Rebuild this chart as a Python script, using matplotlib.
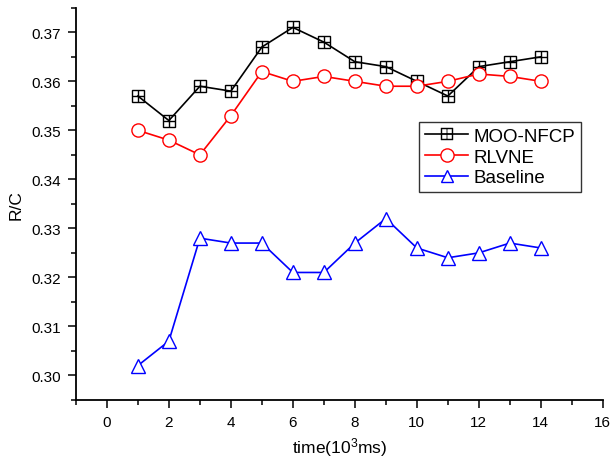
import matplotlib
matplotlib.use("Agg")
import matplotlib.pyplot as plt
from matplotlib.ticker import MultipleLocator, FormatStrFormatter
from matplotlib.lines import Line2D

plt.rcParams["font.family"] = ["Liberation Sans", "DejaVu Sans"]
plt.rcParams["mathtext.fontset"] = "custom"
plt.rcParams["mathtext.rm"] = "Liberation Sans"
plt.rcParams["mathtext.it"] = "Liberation Sans:italic"

# ============================
# DATA
# ============================
time_k = [1, 2, 3, 4, 5, 6, 7, 8, 9, 10, 11, 12, 13, 14]
moo_nfcp = [0.357, 0.352, 0.359, 0.358, 0.367, 0.371, 0.368,
            0.364, 0.363, 0.360, 0.357, 0.363, 0.364, 0.365]
rlvne = [0.350, 0.348, 0.345, 0.353, 0.362, 0.360, 0.361,
         0.360, 0.359, 0.359, 0.360, 0.3615, 0.361, 0.360]
baseline = [0.302, 0.307, 0.328, 0.327, 0.327, 0.321, 0.321,
            0.327, 0.332, 0.326, 0.324, 0.325, 0.327, 0.326]

# ============================
# FIGURE
# ============================
fig = plt.figure(figsize=(6.12, 4.64), dpi=100)
ax = fig.add_axes([0.124, 0.136, 0.861, 0.845])

ax.plot(time_k, moo_nfcp, color="black", lw=1.2, marker="s", ms=8,
        mfc="none", mec="black", mew=1.0)
ax.plot(time_k, moo_nfcp, color="none", lw=0, marker="+", ms=8,
        mec="black", mew=1.0)
ax.plot(time_k, rlvne, color="red", lw=1.2, marker="o", ms=9.5,
        mfc="white", mec="red", mew=1.0)
ax.plot(time_k, baseline, color="blue", lw=1.2, marker="^", ms=10,
        mfc="white", mec="blue", mew=1.0)

ax.set_xlim(-1, 16)
ax.set_ylim(0.295, 0.375)
ax.xaxis.set_major_locator(MultipleLocator(2))
ax.xaxis.set_minor_locator(MultipleLocator(1))
ax.yaxis.set_major_locator(MultipleLocator(0.01))
ax.yaxis.set_minor_locator(MultipleLocator(0.005))
ax.yaxis.set_major_formatter(FormatStrFormatter("%.2f"))

for side in ["top", "right"]:
    ax.spines[side].set_visible(False)
for side in ["left", "bottom"]:
    ax.spines[side].set_linewidth(1.3)

ax.tick_params(which="major", direction="out", length=6, width=1.1,
               labelsize=11, pad=5)
ax.tick_params(which="minor", direction="out", length=3.5, width=1.1)

ax.set_xlabel("time(10$^3$ms)", fontsize=12.5, labelpad=4)
ax.set_ylabel("R/C", fontsize=12.5, labelpad=5)

handles = [
    Line2D([], [], color="black", lw=1.2, marker="$\\boxplus$", ms=9,
           mec="black", mew=0.3),
    Line2D([], [], color="red", lw=1.2, marker="o", ms=9.5,
           mfc="white", mec="red"),
    Line2D([], [], color="blue", lw=1.2, marker="^", ms=9,
           mfc="white", mec="blue"),
]
leg = ax.legend(handles, ["MOO-NFCP", "RLVNE", "Baseline"],
                loc="upper left", bbox_to_anchor=(0.652, 0.709),
                fontsize=13.5, frameon=True, fancybox=False,
                borderpad=0.3, labelspacing=0.2, handlelength=2.3,
                handletextpad=0.27, borderaxespad=0)
leg.get_frame().set_edgecolor("black")
leg.get_frame().set_linewidth(1.0)

fig.savefig("out.png", dpi=100)
